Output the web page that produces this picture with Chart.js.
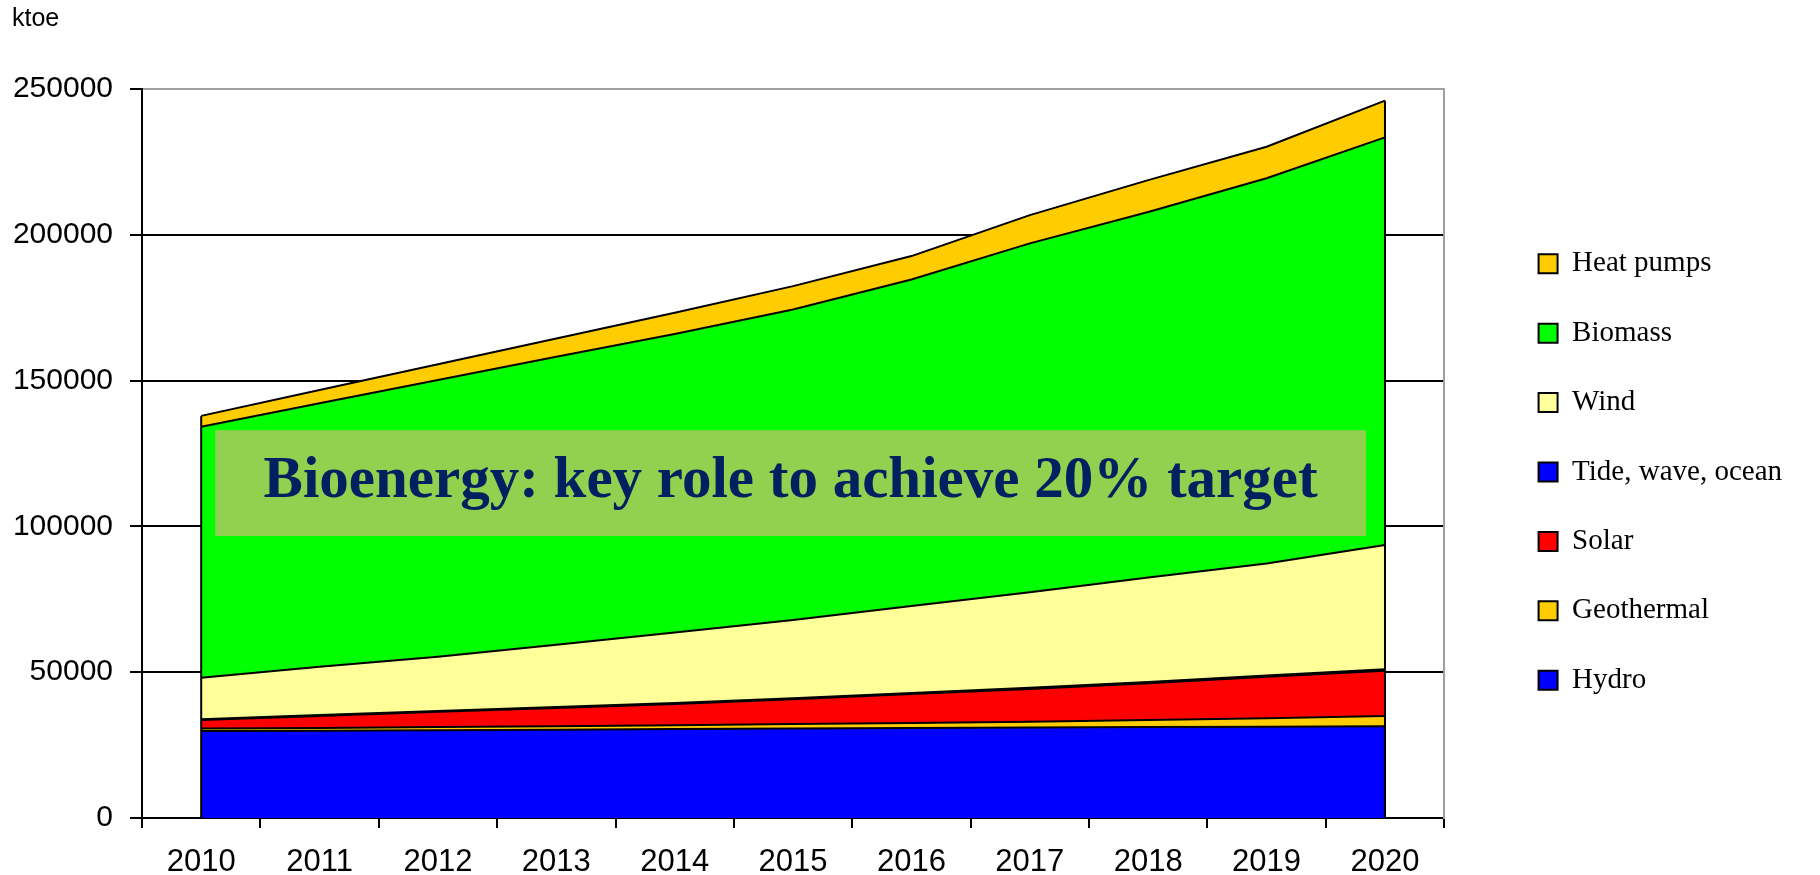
<!DOCTYPE html>
<html>
<head>
<meta charset="utf-8">
<script src="https://cdn.jsdelivr.net/npm/chart.js@4.4.1/dist/chart.umd.min.js"></script>
<style>
  html, body { margin: 0; padding: 0; background: #ffffff; }
  #wrap { width: 1820px; height: 875px; }
</style>
</head>
<body>
<div id="wrap"><canvas id="c" width="1820" height="875"></canvas></div>
<script>
// ---------- data (ktoe) ----------
const years = ['2010', '2011', '2012', '2013', '2014', '2015', '2016', '2017', '2018', '2019', '2020'];
const hydro         = [29800, 29900, 30100, 30300, 30500, 30700, 30900, 31000, 31200, 31300, 31500];
const geothermal    = [900, 1000, 1100, 1200, 1300, 1500, 1700, 2000, 2400, 2900, 3500];
const solar         = [2900, 4100, 5200, 6200, 7300, 8500, 9900, 11200, 12600, 14200, 15500];
const tideWaveOcean = [300, 300, 300, 350, 350, 400, 400, 450, 450, 500, 500];
const wind          = [14200, 16600, 18600, 21400, 24200, 26800, 29800, 32800, 35800, 38400, 42600];
const biomass       = [86100, 90300, 94900, 98700, 102300, 106500, 112000, 119600, 125400, 132100, 139800];
const heatPumps     = [3700, 4600, 5400, 6300, 7300, 8000, 8000, 9700, 10900, 10800, 12600];

const seriesNames  = ['Hydro', 'Geothermal', 'Solar', 'Tide, wave, ocean', 'Wind', 'Biomass', 'Heat pumps'];
const seriesValues = [hydro, geothermal, solar, tideWaveOcean, wind, biomass, heatPumps];
const seriesColors = ['#0000FF', '#FFCC00', '#FF0000', '#0000FF', '#FFFF99', '#00FF00', '#FFCC00'];

const yTicks = [0, 50000, 100000, 150000, 200000, 250000];
const unitLabel = 'ktoe';

// annotation banner (value range on the y scale it covers)
const noteText = 'Bioenergy: key role to achieve 20% target';
const noteTopValue = 133000;
const noteBottomValue = 96700;

// ---------- chart ----------
const sansFont = "'Liberation Sans', Arial, sans-serif";
const serifFont = "'Liberation Serif', 'Times New Roman', serif";

const datasets = seriesNames.map((name, i) => ({
  label: name,
  data: seriesValues[i],
  backgroundColor: seriesColors[i],
  borderColor: '#000000',
  borderWidth: 2,
  pointRadius: 0,
  pointHoverRadius: 0,
  tension: 0,
  fill: i === 0 ? 'origin' : '-1'
}));

const decorPlugin = {
  id: 'decor',
  afterDatasetsDraw(chart) {
    const { ctx } = chart;
    const x = chart.scales.x, y = chart.scales.y;
    const n = years.length;
    const totals = years.map((_, i) => seriesValues.reduce((s, arr) => s + arr[i], 0));
    ctx.save();
    // vertical side edges of the stacked area
    ctx.strokeStyle = '#000000';
    ctx.lineWidth = 2;
    [0, n - 1].forEach(i => {
      const px = x.getPixelForValue(i);
      ctx.beginPath();
      ctx.moveTo(px, y.getPixelForValue(0));
      ctx.lineTo(px, y.getPixelForValue(totals[i]));
      ctx.stroke();
    });
    // banner
    const left = x.getPixelForValue(0) + 14;
    const right = x.getPixelForValue(n - 1) - 19;
    const top = y.getPixelForValue(noteTopValue);
    const bottom = y.getPixelForValue(noteBottomValue);
    ctx.fillStyle = '#92D050';
    ctx.fillRect(left, top, right - left, bottom - top);
    ctx.fillStyle = '#002060';
    ctx.font = 'bold 59px ' + serifFont;
    ctx.textAlign = 'center';
    ctx.textBaseline = 'alphabetic';
    ctx.fillText(noteText, (left + right) / 2, top + (bottom - top) * 0.63);
    ctx.restore();
  }
};

new Chart(document.getElementById('c'), {
  type: 'line',
  data: { labels: years, datasets: datasets },
  plugins: [decorPlugin],
  options: {
    responsive: false,
    animation: false,
    events: [],
    layout: { padding: { left: 12, right: 28, top: 0, bottom: 0 } },
    plugins: {
      tooltip: { enabled: false },
      title: {
        display: true,
        text: unitLabel,
        align: 'start',
        color: '#000000',
        font: { family: sansFont, size: 25, weight: 'normal' },
        padding: { top: 4, bottom: 55 }
      },
      legend: {
        display: true,
        position: 'right',
        reverse: true,
        title: { display: true, text: '', font: { size: 10 }, padding: { top: 57, bottom: 0 } },
        labels: {
          boxWidth: 19,
          boxHeight: 19,
          padding: 40.4,
          color: '#000000',
          font: { family: serifFont, size: 29 }
        }
      }
    },
    scales: {
      x: {
        type: 'category',
        offset: true,
        grid: {
          offset: true,
          drawOnChartArea: false,
          drawTicks: true,
          tickLength: 10,
          color: '#000000',
          lineWidth: 2
        },
        border: { display: true, color: '#000000', width: 2 },
        ticks: {
          color: '#000000',
          font: { family: sansFont, size: 31 },
          padding: 16,
          maxRotation: 0,
          autoSkip: false
        },
        afterFit: s => { s.height = 57; }
      },
      y: {
        stacked: true,
        min: 0,
        max: 250000,
        afterBuildTicks: s => { s.ticks = yTicks.map(v => ({ value: v })); },
        grid: {
          drawTicks: true,
          tickLength: 12,
          lineWidth: 2,
          color: c => (c.tick && c.tick.value === 250000) ? '#a0a0a0' : '#000000',
          tickColor: '#000000'
        },
        border: { display: true, color: '#000000', width: 2 },
        ticks: {
          color: '#000000',
          font: { family: sansFont, size: 30 },
          padding: 17,
          callback: v => String(v)
        },
        afterFit: s => { s.width = 130; }
      },
      y2: {
        position: 'right',
        display: true,
        grid: { display: false, drawTicks: false },
        ticks: { display: false },
        border: { display: true, color: '#a0a0a0', width: 2 },
        afterFit: s => { s.width = 54; }
      }
    }
  }
});
</script>
</body>
</html>
